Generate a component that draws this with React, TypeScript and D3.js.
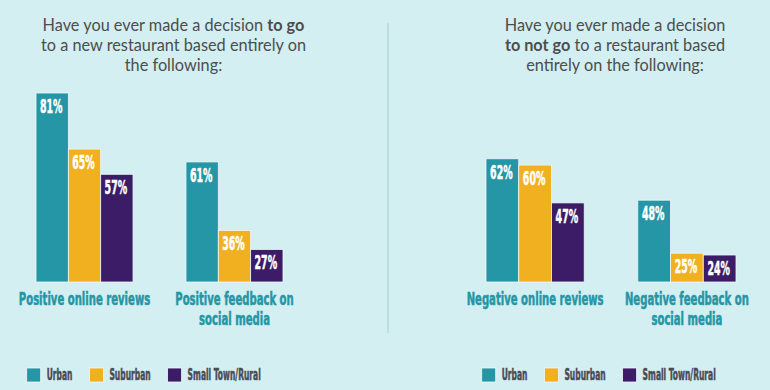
import { useEffect, useRef } from 'react'
import * as d3 from 'd3'

// series / legend
const seriesNames = ['Urban', 'Suburban', 'Small Town/Rural']
const seriesColors = ['#2596a5', '#f1b01f', '#3c1c66']

// left panel: decision to go
const goTitle: [string, boolean][][] = [
  [['Have you ever made a decision ', false], ['to go', true]],
  [['to a new restaurant based entirely on', false]],
  [['the following:', false]],
]
const goCategories = [['Positive online reviews'], ['Positive feedback on', 'social media']]
const goValues = [
  [81, 65, 57],
  [61, 36, 27],
]

// right panel: decision to not go
const notGoTitle: [string, boolean][][] = [
  [['Have you ever made a decision', false]],
  [['to not go', true], [' to a restaurant based', false]],
  [['entirely on the following:', false]],
]
const notGoCategories = [['Negative online reviews'], ['Negative feedback on', 'social media']]
const notGoValues = [
  [62, 60, 47],
  [48, 25, 24],
]

const BG = '#d3eff2'
const TEAL = '#2596a5'
const condensed = '"DejaVu Sans Condensed", "Liberation Sans Narrow", "DejaVu Sans", sans-serif'

export default function App() {
  const svgRef = useRef<SVGSVGElement>(null)

  useEffect(() => {
    if (!svgRef.current) return
    document.body.style.margin = '0'
    const svg = d3.select(svgRef.current)
    svg.selectAll('*').remove()

    const width = 770
    const height = 390
    const baseline = 282

    svg.append('rect').attr('width', width).attr('height', height).attr('fill', BG)

    // bar heights are not proportional in the original, a power scale fits it
    const y = d3.scalePow().exponent(1.6).domain([0, 81]).range([baseline, 93])

    // divider
    svg.append('line')
      .attr('x1', 388).attr('x2', 388)
      .attr('y1', 23).attr('y2', 333)
      .attr('stroke', '#a8d4dc')
      .attr('stroke-width', 1.2)

    const squeezeText = (
      g: d3.Selection<SVGGElement, unknown, null, undefined>,
      x: number, yy: number, text: string, size: number, fill: string,
      sx: number, anchor = 'middle'
    ) => g.append('text')
      .attr('transform', `translate(${x},${yy}) scale(${sx},1)`)
      .attr('text-anchor', anchor)
      .attr('font-family', condensed)
      .attr('font-weight', 'bold')
      .attr('font-size', size)
      .attr('fill', fill)
      .attr('stroke', fill)
      .attr('stroke-width', 0.5)
      .text(text)

    const drawPanel = (
      title: [string, boolean][][],
      titleCenter: number,
      categories: string[][],
      values: number[][],
      range: [number, number],
      legendX: number
    ) => {
      const g = svg.append('g')

      // title
      title.forEach((line, i) => {
        const t = g.append('text')
          .attr('x', titleCenter)
          .attr('y', 31 + i * 20)
          .attr('text-anchor', 'middle')
          .attr('font-family', 'Lato, "Open Sans", sans-serif')
          .attr('font-size', 16.3)
          .attr('fill', '#4d4d4d')
        line.forEach(([txt, bold]) => {
          t.append('tspan').attr('font-weight', bold ? 'bold' : 'normal').text(txt)
        })
      })

      const x0 = d3.scaleBand<number>()
        .domain(d3.range(categories.length))
        .range(range)
        .paddingInner(0.353)
      const x1 = d3.scaleBand<number>()
        .domain(d3.range(seriesNames.length))
        .range([0, x0.bandwidth()])

      values.forEach((vals, ci) => {
        const cg = g.append('g').attr('transform', `translate(${x0(ci)},0)`)
        vals.forEach((v, si) => {
          cg.append('rect')
            .attr('x', x1(si)!)
            .attr('y', y(v))
            .attr('width', x1.bandwidth())
            .attr('height', baseline - y(v))
            .attr('fill', seriesColors[si])
            .attr('stroke', '#eef9fa')
            .attr('stroke-width', 0.8)
          squeezeText(cg, x1(si)! + x1.bandwidth() / 2 - 1, y(v) + 20, `${v}%`, 19, '#ffffff', 0.55)
        })
        const cx = x0.bandwidth() / 2
        categories[ci].forEach((line, li) => {
          squeezeText(cg, cx, 305 + li * 20, line, 17.5, TEAL, 0.64)
        })
      })

      // legend
      let lx = legendX
      seriesNames.forEach((name, i) => {
        g.append('rect')
          .attr('x', lx).attr('y', 368)
          .attr('width', 14).attr('height', 14)
          .attr('fill', seriesColors[i])
          .attr('stroke', '#eef9fa')
          .attr('stroke-width', 0.8)
        const t = squeezeText(g, lx + 20, 380, name, 15, '#4a4a55', 0.56, 'start')
        const w = (t.node() as SVGTextElement).getComputedTextLength() * 0.56
        lx += 20 + w + 17
      })
    }

    drawPanel(goTitle, 173.5, goCategories, goValues, [36, 283], 26.7)
    drawPanel(notGoTitle, 615, notGoCategories, notGoValues, [486, 736], 481.7)
  }, [])

  return <svg ref={svgRef} width={770} height={390} style={{ display: 'block' }} />
}
